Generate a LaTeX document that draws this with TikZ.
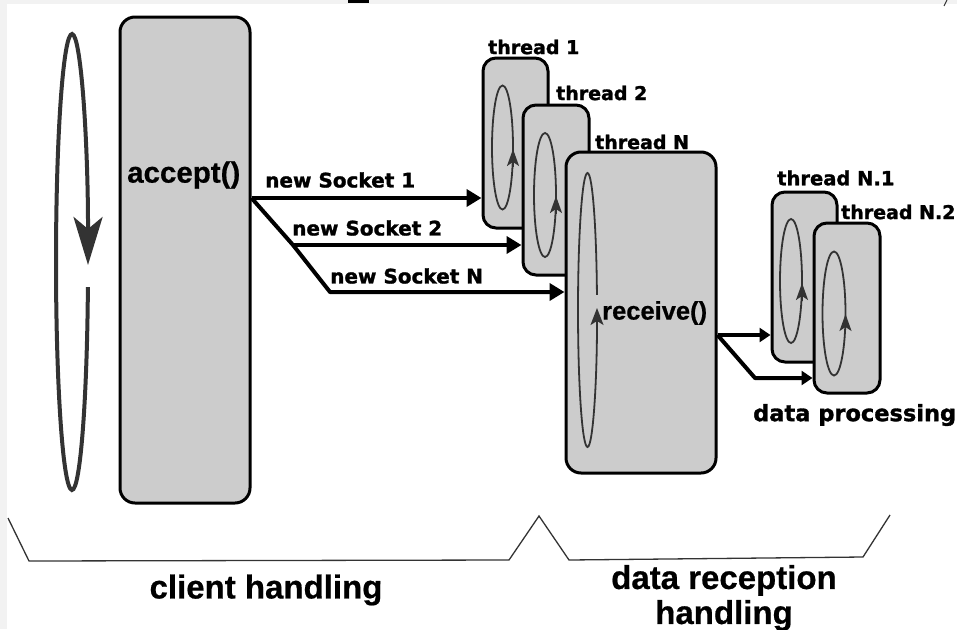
\documentclass[tikz,border=0pt]{standalone}
\usepackage{fontspec}
\setmainfont{Liberation Sans}[BoldFeatures={FakeBold=0.6}]
\newfontfamily\widefont{DejaVu Sans}[BoldFeatures={FakeBold=1.4}]
\usetikzlibrary{arrows.meta}
\definecolor{boxgray}{HTML}{CCCCCC}
\definecolor{loopgray}{HTML}{333333}
\definecolor{edgegray}{HTML}{F2F2F2}
\tikzset{
  box/.style={draw=black, line width=3pt, fill=boxgray, rounded corners=13pt, inner sep=0pt},
  loopline/.style={draw=loopgray, line width=1.8pt},
  looparrow/.style={draw=loopgray, line width=1.8pt, -{Stealth[length=17pt,width=12pt,inset=4pt]}},
  sock/.style={draw=black, line width=4pt, line join=round, -{Triangle[length=15pt,width=17pt]}},
  recv/.style={draw=black, line width=4pt, line join=round, -{Triangle[length=11pt,width=14pt]}},
  biglabel/.style={font=\bfseries\fontsize{29.5}{30}\selectfont, inner sep=0pt},
  smalllabel/.style={font=\widefont\bfseries\fontsize{19}{20}\selectfont, inner sep=0pt, anchor=west},
  socklabel/.style={font=\widefont\bfseries\fontsize{20}{21}\selectfont, inner sep=0pt, anchor=west},
  bottomlabel/.style={font=\bfseries\fontsize{33}{35}\selectfont, inner sep=0pt, align=center},
  bracket/.style={draw=loopgray, line width=1.3pt, line join=miter}
}
\begin{document}
\begin{tikzpicture}[x=1pt,y=-1pt]
\useasboundingbox (0,0) rectangle (957,629);
% edge artefacts of the cropped figure
\fill[edgegray] (0,0) rectangle (957,4);
\fill[edgegray] (0,0) rectangle (7,629);
\fill[black] (348,0) rectangle (369,3);
\draw[loopgray, line width=1pt] (947,0) -- (944,6);

% big loop
\draw[loopgray, line width=4pt, -{Stealth[length=48pt,width=29pt,inset=12pt]}]
  (72,262) ++(6.3:16 and 228) arc[start angle=6.3, end angle=360.75, x radius=16, y radius=228];

% accept box
\node[box, rounded corners=15pt, minimum width=130pt, minimum height=486pt] (acc) at (185,260) {};
\node[biglabel, anchor=west] (acclabel) at (127,175) {accept()};

% threads
\node[box, minimum width=65pt, minimum height=170pt] (t1) at (515.5,143) {};
\draw[loopline] (502.5,147.5) ellipse[x radius=10.5, y radius=62];
\draw[looparrow] (513,167) -- (513,149);

\node[box, minimum width=66pt, minimum height=170pt] (t2) at (556,190) {};
\draw[loopline] (545,195) ellipse[x radius=11, y radius=62];
\draw[looparrow] (556,214) -- (556,196);

\node[box, rounded corners=15pt, minimum width=150pt, minimum height=321pt] (tN) at (641,312.5) {};
\draw[loopline, -{Stealth[length=17pt,width=13pt,inset=4pt]}]
  (587.5,310) ++(-6.3:9.5 and 137) arc[start angle=-6.3, end angle=-360.84, x radius=9.5, y radius=137];
\node[biglabel, font=\bfseries\fontsize{25.5}{26}\selectfont, anchor=west] (recvlabel) at (602,313) {receive()};

\node[smalllabel] (lt1) at (488,47) {thread 1};
\node[smalllabel] (lt2) at (556,93) {thread 2};
\node[smalllabel] (ltN) at (595,142) {thread N};

% sub threads
\node[box, minimum width=65pt, minimum height=170pt] (tN1) at (804.5,277) {};
\draw[loopline] (791,281) ellipse[x radius=11, y radius=62];
\draw[looparrow] (802,301) -- (802,283);

\node[box, minimum width=66pt, minimum height=170pt] (tN2) at (847,308) {};
\draw[loopline] (834,313.5) ellipse[x radius=11.5, y radius=62];
\draw[looparrow] (845.5,333) -- (845.5,314);

\node[smalllabel, font=\widefont\bfseries\fontsize{19.5}{20}\selectfont] (ltN1) at (777,178) {thread N.1};
\node[smalllabel] (ltN2) at (841,212) {thread N.2};
\node[socklabel, font=\widefont\bfseries\fontsize{22.5}{23}\selectfont] (dp) at (753,415) {data processing};

% socket connectors
\coordinate (s0) at (acc.east |- 0,198);
\coordinate (k2) at (293,245);
\coordinate (k3) at (330,292);
\draw[sock] (s0) -- (s0 -| t1.west);
\draw[sock] (s0) -- (k2) -- (k3) -- (k3 -| tN.west);
\draw[sock] (k2) -- (k2 -| t2.west);
\node[socklabel] (ls1) at (265,180) {new Socket 1};
\node[socklabel] (ls2) at (292,228) {new Socket 2};
\node[socklabel] (lsN) at (330,276) {new Socket N};

% receive connectors
\coordinate (r0) at (tN.east |- 0,335);
\coordinate (r1) at (755,378);
\draw[recv] (r0) -- (r0 -| tN1.west);
\draw[recv] (r0) -- (r1) -- (r1 -| tN2.west);

% brackets
\coordinate (b0) at (8,518);
\coordinate (b1) at (29,561);
\coordinate (b2) at (509,560);
\coordinate (b3) at (539,516);
\coordinate (b4) at (569,560);
\coordinate (b5) at (863,557);
\coordinate (b6) at (890,515);
\draw[bracket] (b0) -- (b1) -- (b2) -- (b3) -- (b4) -- (b5) -- (b6);

\node[bottomlabel] (client) at (266,590) {client handling};
\node[bottomlabel] (datarec) at (724,598) {data reception\\handling};
\end{tikzpicture}
\end{document}
